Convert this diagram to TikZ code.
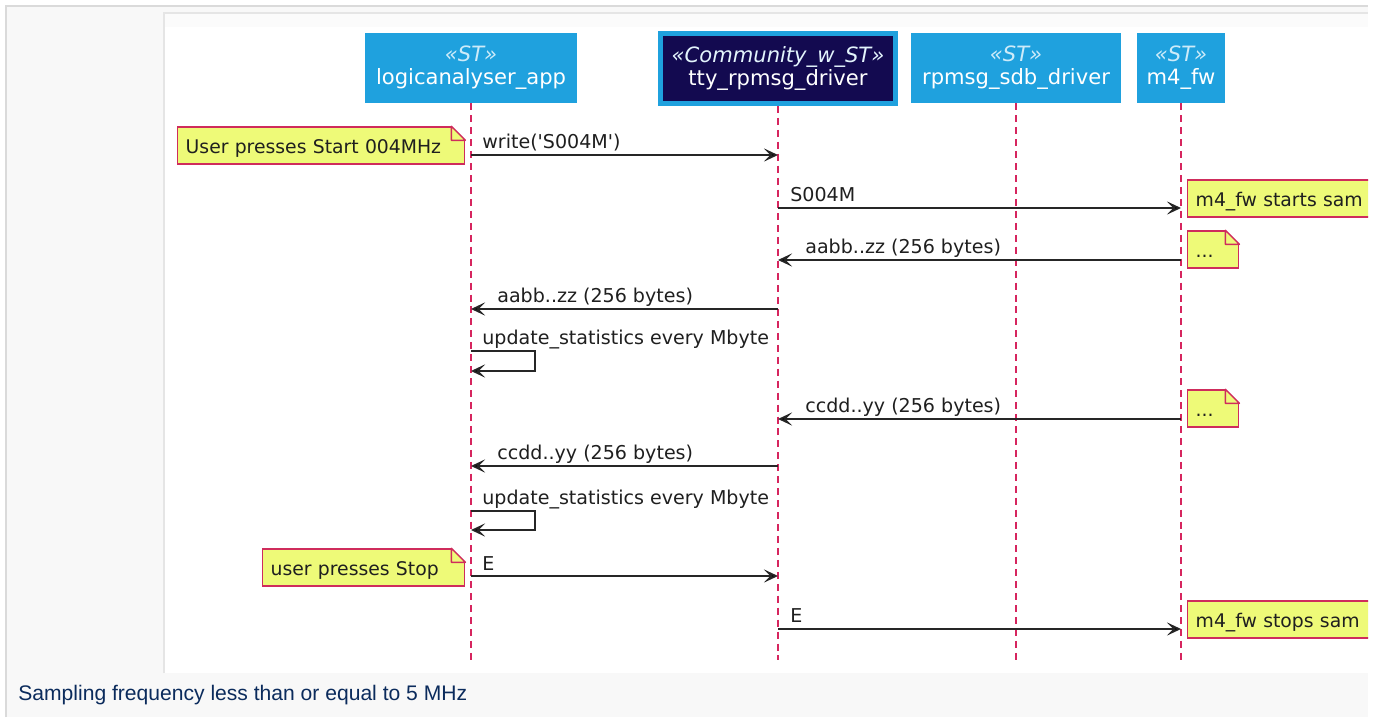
\documentclass[tikz,border=0pt]{standalone}
\usepackage{fontspec}
\setmainfont{DejaVu Sans}
\newfontfamily\captionfont{Liberation Sans}
\usepackage{tikz}
\usetikzlibrary{positioning,arrows.meta}

\definecolor{stblue}{HTML}{1FA1DE}
\definecolor{stnavy}{HTML}{130A50}
\definecolor{stereo}{HTML}{CDEBF9}
\definecolor{lifered}{HTML}{D6255E}
\definecolor{notefill}{HTML}{EEFA78}
\definecolor{noteborder}{HTML}{CF2C5C}
\definecolor{pagegray}{HTML}{F8F8F8}
\definecolor{framegray}{HTML}{DADADA}
\definecolor{capblue}{HTML}{0B2B5C}

\newcommand{\dogear}[1]{%
  \fill[white] ([xshift=-0.28cm]#1.north east) -- ([xshift=0.05cm,yshift=0.05cm]#1.north east) -- ([yshift=-0.28cm]#1.north east) -- cycle;
  \filldraw[fill=notefill,draw=noteborder,line width=0.8pt,line join=round] ([xshift=-0.28cm]#1.north east) -- ([xshift=-0.28cm,yshift=-0.28cm]#1.north east) -- ([yshift=-0.28cm]#1.north east) -- cycle;
}

\begin{document}
\begin{tikzpicture}[
        x=0.02cm,
        y=-0.02cm,
        actor/.style={
            rectangle,
            fill=stblue,
            text=white,
            align=center,
            inner sep=0pt,
            minimum height=1.4cm,
            font=\fontsize{12}{13}\selectfont
        },
        note/.style={
            rectangle,
            fill=notefill,
            draw=noteborder,
            line width=0.8pt,
            align=left,
            anchor=west,
            inner xsep=0.16cm,
            inner ysep=0pt,
            text height=11.6pt,
            text depth=3pt,
            minimum height=0.74cm,
            text=black!88,
            font=\fontsize{10.7}{12.8}\selectfont
        },
        lifeline/.style={
            draw=lifered,
            line width=0.8pt,
            dash pattern=on 4pt off 2.8pt
        },
        line/.style={
            draw=black!85,
            line width=0.9pt,
            -{Stealth[length=8pt,width=7.5pt,inset=3.6pt,fill=black]}
        },
        msg/.style={
            anchor=base west,
            inner sep=0pt,
            text=black!88,
            font=\fontsize{10.85}{13}\selectfont
        },
      ]
        \useasboundingbox (0,0) rectangle (1379,717);
        \fill[white] (0,0) rectangle (1379,717);
        \fill[pagegray] (6,6) rectangle (1368,717);
        \draw[framegray,line width=0.6pt] (6,717) -- (6,6) -- (1368,6);
        \fill[white] (164,13) rectangle (1368,673);
        \fill[pagegray!60!white] (164,13) rectangle (1368,27);
        \draw[framegray!70!white,line width=0.6pt] (164,673) -- (164,13) -- (1368,13);

        \node [actor,minimum width=4.24cm] (app) at (471,68) {\textcolor{stereo}{\textit{«ST»}}\\logicanalyser\_app};
        \node [actor,fill=stnavy,draw=stblue,line width=3pt,minimum width=4.69cm,minimum height=1.39cm] (tty) at (778,68.5) {\textcolor{stereo!55!white}{\textit{«Community\_w\_ST»}}\\tty\_rpmsg\_driver};
        \node [actor,minimum width=4.22cm] (sdb) at (1016,68) {\textcolor{stereo}{\textit{«ST»}}\\rpmsg\_sdb\_driver};
        \node [actor,minimum width=1.76cm] (fw) at (1181,68) {\textcolor{stereo}{\textit{«ST»}}\\m4\_fw};

        \path [lifeline] (app.south) -- (app.south |- 0,660);
        \path [lifeline] (tty.south) -- (tty.south |- 0,660);
        \path [lifeline] (sdb.south) -- (sdb.south |- 0,660);
        \path [lifeline] (fw.south) -- (fw.south |- 0,660);

        \node [note,text width=5.42cm] (start-note) at (177,145.5) {User presses Start 004MHz};
        \dogear{start-note}
        \node [note,text width=3.72cm] (stop-note) at (262,567.5) {user presses Stop};
        \dogear{stop-note}
        \node [note,text width=0.70cm] (wait-note-a) at (1187,249.5) {...};
        \dogear{wait-note-a}
        \node [note,text width=0.70cm] (wait-note-b) at (1187,408.5) {...};
        \dogear{wait-note-b}
        \begin{scope}
            \clip (0,0) rectangle (1368,717);
            \node [note,text width=3.94cm] (fw-start-note) at (1187,198.5) {m4\_fw starts sam};
            \node [note,text width=3.94cm] (fw-stop-note) at (1187,619.5) {m4\_fw stops sam};
        \end{scope}

        \path [line] (app |- 0,155) -- (tty |- 0,155);
        \node [msg] (write-label) at (482,148.5) {write(\textquotesingle S004M\textquotesingle)};
        \path [line] (tty |- 0,208) -- (fw |- 0,208);
        \node [msg] (start-label) at (790,201.5) {S004M};
        \path [line] (fw |- 0,260) -- (tty |- 0,260);
        \node [msg] (chunk-a-label) at (805,253.5) {aabb..zz (256 bytes)};
        \path [line] (tty |- 0,309) -- (app |- 0,309);
        \node [msg] (chunk-a-app-label) at (497,302.5) {aabb..zz (256 bytes)};
        \path [line] (app |- 0,351) -- ++(64,0) -- ++(0,20) -- (app |- 0,371);
        \node [msg] (stats-a-label) at (482,344.5) {update\_statistics every Mbyte};
        \path [line] (fw |- 0,419) -- (tty |- 0,419);
        \node [msg] (chunk-b-label) at (805,412.5) {ccdd..yy (256 bytes)};
        \path [line] (tty |- 0,466) -- (app |- 0,466);
        \node [msg] (chunk-b-app-label) at (497,459.5) {ccdd..yy (256 bytes)};
        \path [line] (app |- 0,511) -- ++(64,0) -- ++(0,19) -- (app |- 0,530);
        \node [msg] (stats-b-label) at (482,504.5) {update\_statistics every Mbyte};
        \path [line] (app |- 0,576) -- (tty |- 0,576);
        \node [msg] (stop-label) at (482,570.5) {E};
        \path [line] (tty |- 0,629) -- (fw |- 0,629);
        \node [msg] (stop-fw-label) at (790,622.5) {E};

        \node [anchor=west,inner sep=0pt,text=capblue,font=\captionfont\fontsize{12}{14}\selectfont] (caption) at (18,695) {Sampling frequency less than or equal to 5 MHz};
      \end{tikzpicture}
\end{document}
